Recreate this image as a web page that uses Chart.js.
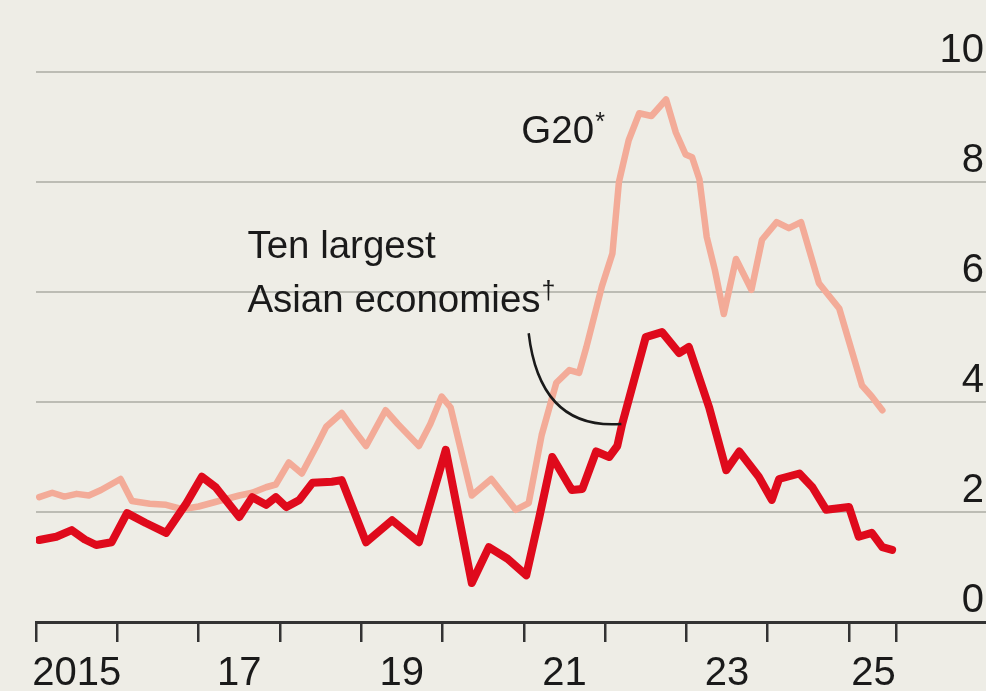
<!DOCTYPE html>
<html>
<head>
<meta charset="utf-8">
<script src="https://cdn.jsdelivr.net/npm/chart.js@4"></script>
<style>
  html, body { margin: 0; padding: 0; background: #eeede6; }
  #wrap { width: 986px; height: 691px; }
</style>
</head>
<body>
<div id="wrap"><canvas id="chart" width="986" height="691"></canvas></div>
<script>
// ===== Data =====
const g20Dates = [
  2015.04, 2015.20, 2015.35, 2015.50, 2015.65, 2015.80, 2015.98, 2016.04, 2016.18, 2016.40,
  2016.60, 2016.80, 2017.00, 2017.25, 2017.50, 2017.66, 2017.83, 2017.95, 2018.11, 2018.27,
  2018.45, 2018.57, 2018.76, 2018.88, 2019.06, 2019.30, 2019.45, 2019.71, 2019.85, 2019.99,
  2020.10, 2020.36, 2020.60, 2020.90, 2021.06, 2021.22, 2021.40, 2021.56, 2021.68, 2021.77,
  2021.96, 2022.09, 2022.17, 2022.29, 2022.42, 2022.57, 2022.75, 2022.87, 2022.99, 2023.07,
  2023.16, 2023.25, 2023.35, 2023.46, 2023.61, 2023.80, 2023.93, 2024.11, 2024.26, 2024.41,
  2024.63, 2024.88, 2025.04, 2025.16, 2025.28, 2025.41
];
const g20Values = [
  2.27, 2.35, 2.28, 2.33, 2.30, 2.40, 2.55, 2.60, 2.20, 2.15,
  2.13, 2.05, 2.10, 2.20, 2.30, 2.35, 2.45, 2.50, 2.90, 2.70,
  3.20, 3.55, 3.80, 3.55, 3.20, 3.85, 3.60, 3.20, 3.60, 4.10,
  3.90, 2.30, 2.60, 2.04, 2.16, 3.40, 4.35, 4.58, 4.53, 5.00,
  6.10, 6.70, 8.00, 8.76, 9.25, 9.20, 9.50, 8.90, 8.50, 8.45,
  8.05, 7.00, 6.40, 5.60, 6.60, 6.04, 6.95, 7.27, 7.16, 7.27,
  6.16, 5.70, 4.90, 4.30, 4.10, 3.85
];

const asiaDates = [
  2015.04, 2015.25, 2015.44, 2015.60, 2015.74, 2015.93, 2016.12, 2016.35, 2016.60, 2016.85,
  2017.04, 2017.21, 2017.50, 2017.66, 2017.83, 2017.95, 2018.08, 2018.24, 2018.40, 2018.64,
  2018.76, 2019.06, 2019.38, 2019.71, 2020.04, 2020.36, 2020.57, 2020.80, 2021.03, 2021.19,
  2021.35, 2021.59, 2021.72, 2021.89, 2022.05, 2022.15, 2022.21, 2022.50, 2022.70, 2022.91,
  2023.03, 2023.28, 2023.49, 2023.65, 2023.89, 2024.05, 2024.14, 2024.39, 2024.55, 2024.72,
  2025.00, 2025.12, 2025.28, 2025.41, 2025.53
];
const asiaValues = [
  1.49, 1.55, 1.67, 1.50, 1.40, 1.45, 1.98, 1.80, 1.62, 2.16,
  2.64, 2.45, 1.91, 2.27, 2.13, 2.27, 2.09, 2.22, 2.53, 2.55,
  2.58, 1.45, 1.85, 1.45, 3.13, 0.71, 1.36, 1.15, 0.85, 1.90,
  3.00, 2.40, 2.42, 3.10, 3.00, 3.20, 3.60, 5.18, 5.27, 4.89,
  5.00, 3.90, 2.76, 3.10, 2.64, 2.22, 2.60, 2.70, 2.45, 2.04,
  2.09, 1.55, 1.62, 1.36, 1.31
];

// tick marks at the start of each year, plus the end of the series
const yearTicks = [2015, 2016, 2017, 2018, 2019, 2020, 2021, 2022, 2023, 2024, 2025, 2025.58];
// year labels sit in the middle of their year
const yearLabelPos = [2015.5, 2017.5, 2019.5, 2021.5, 2023.5, 2025.3];
const yearLabels = ['2015', '17', '19', '21', '23', '25'];
const yTicks = [0, 2, 4, 6, 8, 10];

const BG = '#eeede6';
const G20_COLOR = '#f3ab98';
const ASIA_COLOR = '#df0a1c';
const INK = '#1a1a1a';
const SANS = '"Liberation Sans", Arial, sans-serif';

function toPoints(xs, ys) {
  return xs.map((x, i) => ({ x: x, y: ys[i] }));
}

// ===== Background, labels and pointer =====
const decorations = {
  id: 'decorations',
  beforeDraw(chart) {
    const ctx = chart.ctx;
    ctx.save();
    ctx.fillStyle = BG;
    ctx.fillRect(0, 0, chart.width, chart.height);
    ctx.restore();
  },
  afterDatasetsDraw(chart) {
    const { ctx, scales: { x, y } } = chart;
    ctx.save();
    ctx.fillStyle = INK;
    ctx.textBaseline = 'alphabetic';
    ctx.textAlign = 'left';

    const label = (text, sup, t, v) => {
      ctx.font = '38.5px ' + SANS;
      const px = x.getPixelForValue(t);
      const py = y.getPixelForValue(v);
      ctx.fillText(text, px, py);
      if (sup) {
        const w = ctx.measureText(text).width;
        ctx.font = '25px ' + SANS;
        ctx.fillText(sup, px + w + 1, py - 13);
      }
    };
    label('G20', '*', 2020.97, 8.71);
    label('Ten largest', '', 2017.6, 6.62);
    label('Asian economies', '\u2020', 2017.6, 5.64);

    // curved pointer from the label down to the red line
    ctx.strokeStyle = INK;
    ctx.lineWidth = 2.5;
    ctx.beginPath();
    ctx.moveTo(x.getPixelForValue(2021.06), y.getPixelForValue(5.25));
    ctx.quadraticCurveTo(
      x.getPixelForValue(2021.2), y.getPixelForValue(3.49),
      x.getPixelForValue(2022.2), y.getPixelForValue(3.6)
    );
    ctx.stroke();
    ctx.restore();
  }
};

// ===== Chart =====
const ctx = document.getElementById('chart').getContext('2d');
new Chart(ctx, {
  type: 'line',
  data: {
    datasets: [
      {
        label: 'Ten largest Asian economies',
        data: toPoints(asiaDates, asiaValues),
        borderColor: ASIA_COLOR,
        borderWidth: 8,
        order: 0
      },
      {
        label: 'G20',
        data: toPoints(g20Dates, g20Values),
        borderColor: G20_COLOR,
        borderWidth: 6.5,
        order: 1
      }
    ]
  },
  options: {
    responsive: false,
    animation: false,
    layout: { padding: { top: 72, left: 36, right: 0, bottom: 0 } },
    elements: {
      point: { radius: 0 },
      line: { tension: 0, borderJoinStyle: 'round', borderCapStyle: 'round' }
    },
    plugins: {
      legend: { display: false },
      tooltip: { enabled: false }
    },
    scales: {
      x: {
        type: 'linear',
        position: 'bottom',
        min: 2015,
        max: 2026.685,
        afterBuildTicks: (axis) => { axis.ticks = yearTicks.map(v => ({ value: v })); },
        afterFit: (axis) => { axis.height = 20; },
        ticks: { display: false },
        grid: {
          display: true,
          drawOnChartArea: false,
          drawTicks: true,
          tickLength: 20,
          color: '#333333',
          lineWidth: 2.5
        },
        border: { display: true, color: '#333333', width: 3 }
      },
      xLabels: {
        type: 'linear',
        position: 'bottom',
        min: 2015,
        max: 2026.685,
        afterBuildTicks: (axis) => { axis.ticks = yearLabelPos.map(v => ({ value: v })); },
        afterFit: (axis) => { axis.height = 49; },
        ticks: {
          autoSkip: false,
          maxRotation: 0,
          padding: 8,
          color: INK,
          font: { family: SANS, size: 40 },
          callback: (value) => {
            const i = yearLabelPos.indexOf(value);
            return i >= 0 ? yearLabels[i] : '';
          }
        },
        grid: { display: false, drawTicks: false },
        border: { display: false }
      },
      y: {
        type: 'linear',
        position: 'right',
        min: 0,
        max: 10,
        afterBuildTicks: (axis) => { axis.ticks = yTicks.map(v => ({ value: v })); },
        afterFit: (axis) => { axis.width = 0; },
        ticks: {
          mirror: true,
          padding: -2,
          labelOffset: -21,
          color: INK,
          font: { family: SANS, size: 40 }
        },
        grid: {
          color: '#bcbcb4',
          lineWidth: 2,
          drawTicks: false
        },
        border: { display: false }
      }
    }
  },
  plugins: [decorations]
});
</script>
</body>
</html>
